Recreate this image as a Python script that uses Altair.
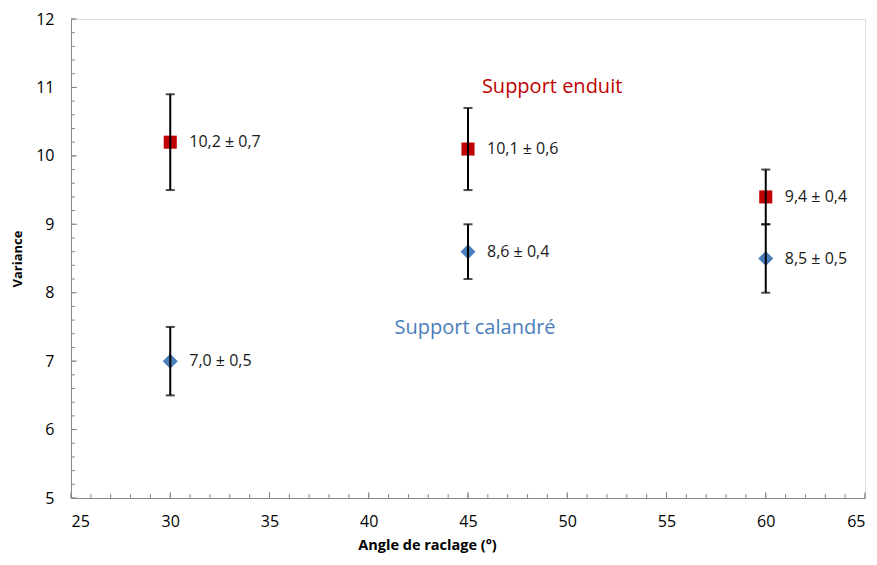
import altair as alt
import pandas as pd

# Data
angles = [30, 45, 60]
enduit_mean = [10.2, 10.1, 9.4]
enduit_err = [0.7, 0.6, 0.4]
calandre_mean = [7.0, 8.6, 8.5]
calandre_err = [0.5, 0.4, 0.5]
enduit_labels = ["10,2 ± 0,7", "10,1 ± 0,6", "9,4 ± 0,4"]
calandre_labels = ["7,0 ± 0,5", "8,6 ± 0,4", "8,5 ± 0,5"]

x_major = [25, 30, 35, 40, 45, 50, 55, 60, 65]
x_minor = list(range(25, 66))
y_major = [5, 6, 7, 8, 9, 10, 11, 12]
y_minor = [round(5 + 0.2 * i, 1) for i in range(36)]

series_names = ["Support enduit", "Support calandré"]
series_label_x = [45.7, 41.3]
series_label_y = [11.0, 7.48]

W, H = 794, 479

rows = []
for a, m, e, l in zip(angles, enduit_mean, enduit_err, enduit_labels):
    rows.append(dict(angle=a, mean=m, lo=m - e, hi=m + e, label=l, s="enduit"))
for a, m, e, l in zip(angles, calandre_mean, calandre_err, calandre_labels):
    rows.append(dict(angle=a, mean=m, lo=m - e, hi=m + e, label=l, s="calandre"))
df = pd.DataFrame(rows)

xs = alt.Scale(domain=[25, 65], nice=False, zero=False)
ys = alt.Scale(domain=[5, 12], nice=False, zero=False)
GREY = "#888888"
FONT = "Open Sans"

base = alt.Chart(df)

x_axis = alt.Axis(values=x_major, format="d", ticks=False, grid=False, domainColor=GREY, domainWidth=1,
                  labelFont=FONT, labelFontSize=16, labelColor="#000000", labelPadding=15,
                  title="Angle de raclage (°)", titleFont=FONT, titleFontSize=14.5,
                  titleFontWeight="bold", titleColor="#000000",
                  titleX=356, titleY=47, titleAlign="center", titleBaseline="middle")
y_axis = alt.Axis(values=y_major, format="d", ticks=False, grid=False, domainColor=GREY, domainWidth=1,
                  labelFont=FONT, labelFontSize=16, labelColor="#000000", labelPadding=17,
                  title="Variance", titleFont=FONT, titleFontSize=13,
                  titleFontWeight="bold", titleColor="#000000", titleAngle=270,
                  titleX=-54, titleY=H / 2, titleAlign="center", titleBaseline="middle")

enduit = df[df.s == "enduit"]
calandre = df[df.s == "calandre"]

sq = alt.Chart(enduit).mark_point(shape="square", filled=True, size=170, color="#c00000", opacity=1).encode(
    x=alt.X("angle:Q", scale=xs, axis=x_axis),
    y=alt.Y("mean:Q", scale=ys, axis=y_axis),
)
dm = alt.Chart(calandre).mark_point(shape="diamond", filled=True, size=225, color="#4a7ebb", opacity=1).encode(
    x=alt.X("angle:Q", scale=xs), y=alt.Y("mean:Q", scale=ys)
)
err = base.mark_rule(color="#000000", strokeWidth=2).encode(
    x=alt.X("angle:Q", scale=xs), y=alt.Y("lo:Q", scale=ys), y2="hi:Q"
)
cap_lo = base.mark_tick(color="#000000", thickness=2, size=9, orient="horizontal").encode(
    x=alt.X("angle:Q", scale=xs), y=alt.Y("lo:Q", scale=ys)
)
cap_hi = base.mark_tick(color="#000000", thickness=2, size=9, orient="horizontal").encode(
    x=alt.X("angle:Q", scale=xs), y=alt.Y("hi:Q", scale=ys)
)
lbl = base.mark_text(align="left", baseline="middle", dx=19, font=FONT, fontSize=16, color="#1a1a1a").encode(
    x=alt.X("angle:Q", scale=xs), y=alt.Y("mean:Q", scale=ys), text="label:N"
)

ann_df = pd.DataFrame(dict(name=series_names, x=series_label_x, y=series_label_y,
                           c=["#c00000", "#4a7ebb"]))
ann = alt.Chart(ann_df).mark_text(align="left", baseline="middle", font=FONT, fontSize=20).encode(
    x=alt.X("x:Q", scale=xs), y=alt.Y("y:Q", scale=ys), text="name:N",
    color=alt.Color("c:N", scale=None)
)

# inward ticks
xmaj = alt.Chart(pd.DataFrame(dict(v=x_major))).mark_rule(color=GREY, strokeWidth=1).encode(
    x=alt.X("v:Q", scale=xs), y=alt.value(H), y2=alt.value(H - 6))
xmin = alt.Chart(pd.DataFrame(dict(v=x_minor))).mark_rule(color=GREY, strokeWidth=1).encode(
    x=alt.X("v:Q", scale=xs), y=alt.value(H), y2=alt.value(H - 4))
ymaj = alt.Chart(pd.DataFrame(dict(v=y_major))).mark_rule(color=GREY, strokeWidth=1).encode(
    y=alt.Y("v:Q", scale=ys), x=alt.value(0), x2=alt.value(6))
ymin = alt.Chart(pd.DataFrame(dict(v=y_minor))).mark_rule(color=GREY, strokeWidth=1).encode(
    y=alt.Y("v:Q", scale=ys), x=alt.value(0), x2=alt.value(4))

chart = alt.layer(sq, xmin, xmaj, ymin, ymaj, dm, err, cap_lo, cap_hi, lbl, ann).properties(
    width=W, height=H,
    autosize=alt.AutoSizeParams(type="none"),
    padding={"left": 63, "top": 11, "right": 2, "bottom": 56},
).configure_view(stroke=None).configure(background="white")

chart.save("out.html", embed_options={"renderer": "svg", "actions": False})
